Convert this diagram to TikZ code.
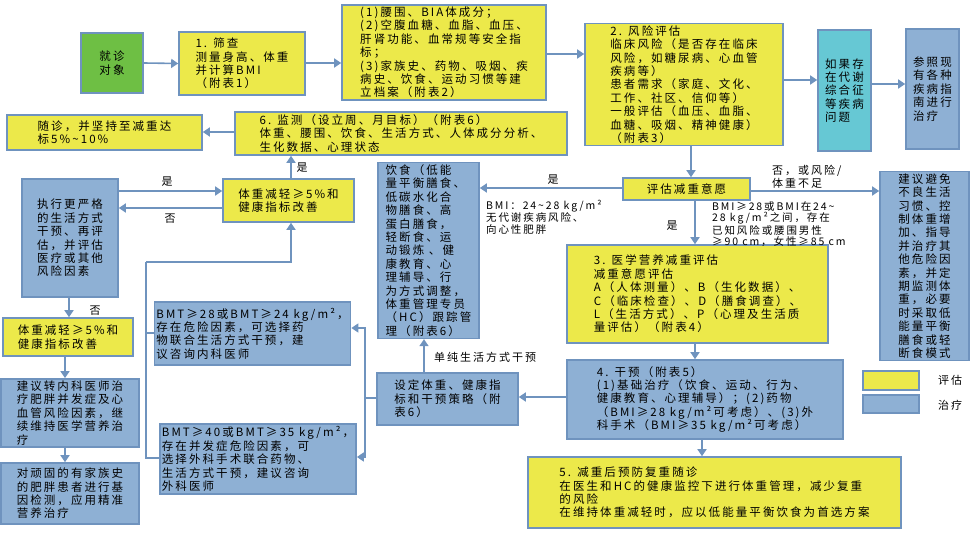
\documentclass[tikz,border=0pt]{standalone}
\usepackage{fontspec}
\setmainfont{Noto Sans CJK SC}[LetterSpace=18]
\usetikzlibrary{arrows.meta}
\definecolor{yel}{HTML}{ECE94A}
\definecolor{blu}{HTML}{8EB0D4}
\definecolor{cya}{HTML}{66C8D4}
\definecolor{grn}{HTML}{6EBF44}
\definecolor{bc}{HTML}{6F93BE}
\newcommand{\tl}{\textasciitilde}
\tikzset{
  box/.style={draw=bc, line width=1.6pt, inner sep=2pt, align=left, font=\fontsize{11.5}{13.4}\selectfont},
  ybox/.style={box, fill=yel},
  bbox/.style={box, fill=blu},
  arr/.style={draw=bc, line width=1.6pt, -{Triangle[width=9pt,length=7pt]}},
  ln/.style={draw=bc, line width=1.6pt},
  lab/.style={align=left, inner sep=0pt, font=\fontsize{11}{13}\selectfont}
}
\begin{document}
\begin{tikzpicture}[x=1pt,y=-1pt]
\useasboundingbox (0,0) rectangle (978,535);
% boxes
\node[box, fill=grn, align=center, minimum width=62, minimum height=60] (g) at (112,63) {就诊\\对象};
\node[ybox, minimum width=126, minimum height=63] (b1) at (242,63.5) {1. 筛查\\测量身高、体重\\并计算BMI\\（附表1）};
\node[ybox, minimum width=204, minimum height=95] (bi) at (444,52.5) {(1)腰围、BIA体成分；\\(2)空腹血糖、血脂、血压、\\肝肾功能、血常规等安全指\\标；\\(3)家族史、药物、吸烟、疾\\病史、饮食、运动习惯等建\\立档案（附表2）};
\node[ybox, minimum width=198, minimum height=121] (b2) at (684,84.5) {2. 风险评估\\临床风险（是否存在临床\\风险，如糖尿病、心血管\\疾病等）\\患者需求（家庭、文化、\\工作、社区、信仰等）\\一般评估（血压、血脂、\\血糖、吸烟、精神健康）\\（附表3）};
\node[box, fill=cya, minimum width=53, minimum height=121] (bm) at (844.5,90.5) {如果存\\在代谢\\综合征\\等疾病\\问题};
\node[bbox, minimum width=53, minimum height=120] (bc) at (932.5,89) {参照现\\有各种\\疾病指\\南进行\\治疗};
\node[ybox, minimum width=332, minimum height=43] (b6) at (401,133.5) {6. 监测（设立周、月目标）（附表6）\\体重、腰围、饮食、生活方式、人体成分分析、\\生化数据、心理状态};
\node[ybox, minimum width=195, minimum height=35] (bs) at (104.5,132.5) {随诊，并坚持至减重达\\标5\%\tl10\%};
\node[ybox, align=center, minimum width=127, minimum height=22] (be) at (686.5,189) {评估减重意愿};
\node[bbox, minimum width=89, minimum height=186] (ba) at (924.5,266) {建议避免\\不良生活\\习惯、控\\制体重增\\加、指导\\并治疗其\\他危险因\\素，并定\\期监测体\\重，必要\\时采取低\\能量平衡\\膳食或轻\\断食模式};
\node[ybox, minimum width=261, minimum height=98] (b3) at (697.5,294) {3. 医学营养减重评估\\减重意愿评估\\A（人体测量）、B（生化数据）、\\C（临床检查）、D（膳食调查）、\\L（生活方式）、P（心理及生活质\\量评估）（附表4）};
\node[bbox, minimum width=276, minimum height=79] (b4) at (705,399.5) {4. 干预（附表5）\\(1)基础治疗（饮食、运动、行为、\\健康教育、心理辅导）；(2)药物\\（BMI≥28 kg/m²可考虑）、(3)外\\科手术（BMI≥35 kg/m²可考虑）};
\node[ybox, minimum width=373, minimum height=71] (b5) at (714.5,492.5) {5. 减重后预防复重随诊\\在医生和HC的健康监控下进行体重管理，减少复重\\的风险\\在维持体重减轻时，应以低能量平衡饮食为首选方案};
\node[bbox, minimum width=101, minimum height=173] (bd) at (428.5,250.5) {饮食（低能\\量平衡膳食、\\低碳水化合\\物膳食、高\\蛋白膳食，\\轻断食、运\\动锻炼 、健\\康教育、心\\理辅导、行\\为方式调整，\\体重管理专员\\（HC）跟踪管\\理（附表6）};
\node[ybox, minimum width=131, minimum height=43] (w1) at (288.5,200.5) {体重减轻≥5\%和\\健康指标改善};
\node[bbox, minimum width=96, minimum height=118] (st) at (70,238) {执行更严格\\的生活方式\\干预、再评\\估，并评估\\医疗或其他\\风险因素};
\node[ybox, minimum width=130, minimum height=38] (w2) at (68,337) {体重减轻≥5\%和\\健康指标改善};
\node[bbox, minimum width=138, minimum height=68] (rf) at (70,413) {建议转内科医师治\\疗肥胖并发症及心\\血管风险因素，继\\续维持医学营养治\\疗};
\node[bbox, minimum width=138, minimum height=61] (gn) at (70,493.5) {对顽固的有家族史\\的肥胖患者进行基\\因检测，应用精准\\营养治疗};
\node[bbox, minimum width=179, minimum height=63] (m28) at (252.5,333.5) {BMT≥28或BMT≥24 kg/m²，\\存在危险因素，可选择药\\物联合生活方式干预，建\\议咨询内科医师};
\node[bbox, minimum width=180, minimum height=70] (m40) at (258,459) {BMT≥40或BMT≥35 kg/m²，\\存在并发症危险因素，可\\选择外科手术联合药物、\\生活方式干预，建议咨询\\外科医师};
\node[bbox, minimum width=141, minimum height=52] (se) at (447.5,399) {设定体重、健康指\\标和干预策略（附\\表6）};
% legend
\node[ybox, minimum width=56, minimum height=19] (ly) at (891,380.5) {};
\node[bbox, minimum width=56, minimum height=18] (lb) at (891,404) {};
\node[lab, anchor=west] (lyt) at (938,380) {评估};
\node[lab, anchor=west] (lbt) at (938,405) {治疗};
% connectors
\draw[arr] (g.east) -- (b1.west);
\draw[arr] (b1.east |- 0,63) -- (bi.west |- 0,63);
\draw[arr] (bi.east |- 0,54) -- (b2.west |- 0,54);
\draw[arr] (b2.east |- 0,80) -- (bm.west |- 0,80);
\draw[arr] (bm.east |- 0,84) -- (bc.west |- 0,84);
\draw[arr] (b2.south -| 691,0) -- (be.north -| 691,0);
\draw[arr] (be.east |- 0,191) -- (ba.west |- 0,191);
\node[lab, anchor=west] (l1) at (772,177) {否，或风险/\\体重不足};
\draw[arr] (be.south -| 695,0) -- (b3.north -| 695,0);
\node[lab] (l2) at (672,226) {是};
\node[lab, anchor=north west, font=\fontsize{10.5}{11.5}\selectfont] (l3) at (712,201) {BMI≥28或BMI在24\tl\\28 kg/m²之间，存在\\已知风险或腰围男性\\≥90 cm，女性≥85 cm};
\draw[arr] (be.west |- 0,188) -- (bd.east |- 0,188);
\node[lab] (l4) at (553,180) {是};
\node[lab, anchor=north west, font=\fontsize{10.5}{12.2}\selectfont] (l5) at (486,200) {BMI：24\tl28 kg/m²\\无代谢疾病风险、\\向心性肥胖};
\draw[arr] (b3.south -| 695,0) -- (b4.north -| 695,0);
\draw[arr] (b4.south -| 702,0) -- (b5.north -| 702,0);
\draw[arr] (b4.west |- 0,397) -- (se.east |- 0,397);
\draw[arr] (se.north -| 424,0) -- (bd.south -| 424,0);
\node[lab, anchor=west] (l6) at (434,357) {单纯生活方式干预};
\coordinate (j1) at (365,398);
\draw[ln] (se.west |- j1) -- (j1);
\draw[arr] (j1) |- (m28.east |- 0,328);
\draw[arr] (j1) |- (m40.east |- 0,457);
\coordinate (j2) at (146,262);
\draw[ln] (m28.west |- 0,333) -| (j2);
\draw[ln] (m40.west |- 0,458) -| (j2);
\draw[arr] (j2) -| (w1.south -| 291,0);
\draw[arr] (w1.north -| 291,0) -- (b6.south -| 291,0);
\node[lab] (l7) at (302,168) {是};
\draw[arr] (b6.west |- 0,132) -- (bs.east |- 0,132);
\draw[arr] (st.east |- 0,191) -- (w1.west |- 0,191);
\node[lab] (l8) at (167,182) {是};
\draw[arr] (w1.west |- 0,208) -- (st.east |- 0,208);
\node[lab] (l9) at (170,219) {否};
\draw[arr] (st.south -| 69,0) -- (w2.north -| 69,0);
\node[lab] (l10) at (95,311) {否};
\draw[arr] (w2.south -| 65,0) -- (rf.north -| 65,0);
\draw[arr] (rf.south -| 65,0) -- (gn.north -| 65,0);
\end{tikzpicture}
\end{document}
